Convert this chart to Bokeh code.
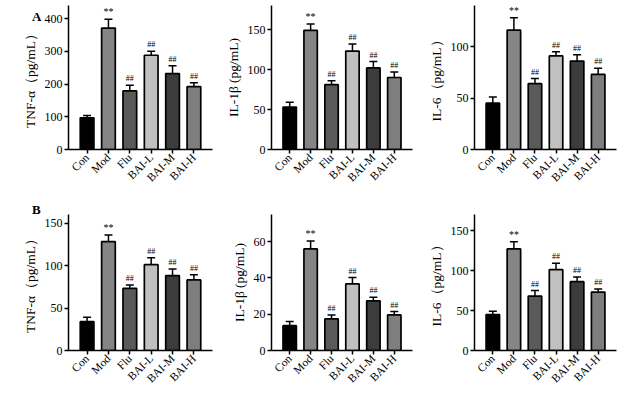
import math
from bokeh.plotting import figure
from bokeh.layouts import gridplot, column
from bokeh.models import ColumnDataSource, FactorRange, Range1d, FixedTicker, Whisker, TeeHead, Div
from bokeh.core.properties import value
from bokeh.embed import file_html
from bokeh.resources import INLINE

FONT = "Liberation Serif"

groups = ["Con", "Mod", "Flu", "BAI-L", "BAI-M", "BAI-H"]
bar_colors = ["#000000", "#858585", "#5a5a5a", "#c0c0c0", "#3c3c3c", "#7e7e7e"]
marks = ["", "**", "##", "##", "##", "##"]

# Panel A
a_tnf = [97, 371, 179, 288, 232, 192]
a_tnf_err = [7, 27, 17, 12, 24, 12]
a_il1b = [53, 149, 81, 123, 102, 90]
a_il1b_err = [6, 8, 5, 9, 8, 7]
a_il6 = [45, 116, 64, 91, 86, 73]
a_il6_err = [6, 12, 5, 4, 6, 6]

# Panel B
b_tnf = [34, 128, 73, 101, 88, 83]
b_tnf_err = [5, 8, 4, 8, 8, 6]
b_il1b = [13.7, 56, 17.4, 36.7, 27.4, 19.6]
b_il1b_err = [2.3, 4.4, 2.2, 3.5, 1.9, 1.9]
b_il6 = [45, 127, 68, 101, 86, 73]
b_il6_err = [4, 9, 7, 8, 6, 4]


def panel(vals, errs, ymax, yticks, ylabel, width, height, left, right, top, bottom):
    upper = [v + e for v, e in zip(vals, errs)]
    sizes = ["10px" if m == "**" else "8px" for m in marks]
    src = ColumnDataSource(dict(x=groups, top=vals, upper=upper, color=bar_colors,
                                mark=marks, msize=sizes))
    p = figure(x_range=FactorRange(factors=groups, range_padding=0.37,
                                   range_padding_units="absolute"),
               y_range=Range1d(0, ymax), width=width, height=height,
               output_backend="svg", toolbar_location=None,
               min_border_left=left, min_border_right=right,
               min_border_top=top, min_border_bottom=bottom)
    p.vbar(x="x", top="top", width=0.64, source=src, fill_color="color",
           line_color="black", line_width=1.7)
    p.add_layout(Whisker(base="x", lower="top", upper="upper", source=src,
                         line_color="black", line_width=1.5,
                         upper_head=TeeHead(size=8, line_width=1.5, line_color="black"),
                         lower_head=None))
    p.text(x="x", y="upper", text="mark", source=src, text_align="center",
           text_baseline="bottom", y_offset=-2, text_font=value(FONT),
           text_font_size="msize", text_color="black")
    p.xgrid.visible = False
    p.ygrid.visible = False
    p.outline_line_color = None
    p.yaxis.ticker = FixedTicker(ticks=yticks)
    p.xaxis.major_label_orientation = math.pi / 4
    p.xaxis.axis_label = None
    for ax in (p.xaxis, p.yaxis):
        ax.axis_line_width = 1.5
        ax.axis_line_color = "black"
        ax.major_tick_line_width = 1.5
        ax.major_tick_line_color = "black"
        ax.major_tick_out = 4
        ax.major_tick_in = 0
        ax.minor_tick_line_color = None
        ax.major_label_text_font = FONT
        ax.major_label_text_color = "black"
        ax.major_label_standoff = 2
    p.xaxis.major_label_text_font_size = "11.5px"
    p.yaxis.major_label_text_font_size = "12px"
    p.yaxis.axis_label = ylabel
    p.yaxis.axis_label_text_font = FONT
    p.yaxis.axis_label_text_font_size = "13.5px"
    p.yaxis.axis_label_text_font_style = "normal"
    p.yaxis.axis_label_text_color = "black"
    p.yaxis.axis_label_standoff = 4
    return p


W = [222, 203, 213]
L = [68, 45, 44]
R = [10, 13, 22]
H1, H2 = 198, 197

pa1 = panel(a_tnf, a_tnf_err, 440, [0, 100, 200, 300, 400], "TNF-α（pg/mL）", W[0], H1, L[0], R[0], 5, 49)
pa2 = panel(a_il1b, a_il1b_err, 180, [0, 50, 100, 150], "IL-1β (pg/mL)", W[1], H1, L[1], R[1], 5, 49)
pa3 = panel(a_il6, a_il6_err, 140, [0, 50, 100], "IL-6（pg/mL）", W[2], H1, L[2], R[2], 5, 49)
pb1 = panel(b_tnf, b_tnf_err, 160, [0, 50, 100, 150], "TNF-α（pg/mL）", W[0], H2, L[0], R[0], 7, 45)
pb2 = panel(b_il1b, b_il1b_err, 75, [0, 20, 40, 60], "IL-1β (pg/mL)", W[1], H2, L[1], R[1], 16, 45)
pb3 = panel(b_il6, b_il6_err, 170, [0, 50, 100, 150], "IL-6（pg/mL）", W[2], H2, L[2], R[2], 7, 45)

grid = gridplot([[pa1, pa2, pa3], [pb1, pb2, pb3]], toolbar_location=None)

tag_style = {"position": "absolute", "font-family": FONT, "font-size": "13px",
             "font-weight": "bold", "line-height": "1", "color": "black", "z-index": "10"}
div_a = Div(text="A", styles=dict(tag_style, left="27px", top="5px"))
div_b = Div(text="B", styles=dict(tag_style, left="27px", top="198px"))

layout = column(div_a, div_b, grid)

open("out.html", "w").write(file_html(layout, INLINE))
